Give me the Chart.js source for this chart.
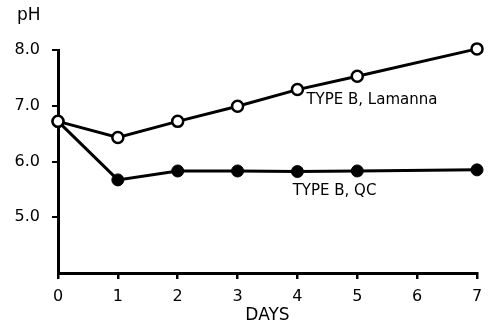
<!DOCTYPE html>
<html>
  <head>
    <meta charset="UTF-8">
    <title>pH</title>
    <script src="https://cdn.jsdelivr.net/npm/chart.js"></script>
    <style>
      html, body { margin: 0; padding: 0; background: #fff; }
      #wrap { width: 503px; height: 330px; }
    </style>
  </head>
  <body>
    <div id="wrap"><canvas id="phChart" width="503" height="330"></canvas></div>

    <script>
      // Days sampled and pH readings for both cultures
      const days = [0, 1, 2, 3, 4, 5, 7];
      const lamannaPH = [6.72, 6.43, 6.72, 6.99, 7.29, 7.53, 8.02];
      const qcPH = [6.72, 5.67, 5.83, 5.83, 5.82, 5.83, 5.85];
      const xTicks = [0, 1, 2, 3, 4, 5, 6, 7];
      const yTicks = [5.0, 6.0, 7.0, 8.0];

      const font = "'DejaVu Sans', sans-serif";

      // curve labels, placed in data units
      const curveLabels = [
        { text: 'TYPE B, Lamanna', day: 4.15, ph: 7.1 },
        { text: 'TYPE B, QC', day: 3.92, ph: 5.46 }
      ];

      const textPlugin = {
        id: 'textPlugin',
        afterDraw(chart) {
          const c = chart.ctx;
          const xs = chart.scales.x, ys = chart.scales.y;
          c.save();
          c.fillStyle = '#000';
          c.font = '15px ' + font;
          c.textBaseline = 'middle';
          c.textAlign = 'left';
          curveLabels.forEach(l => {
            c.fillText(l.text, xs.getPixelForValue(l.day), ys.getPixelForValue(l.ph));
          });
          c.font = '17px ' + font;
          c.fillText('pH', 17, 16);
          c.restore();
        }
      };

      const pts = arr => days.map((d, i) => ({ x: d, y: arr[i] }));

      new Chart(document.getElementById('phChart'), {
        type: 'line',
        data: {
          datasets: [{
            label: 'TYPE B, Lamanna',
            data: pts(lamannaPH),
            borderColor: '#000',
            borderWidth: 3,
            pointBackgroundColor: '#fff',
            pointBorderColor: '#000',
            pointBorderWidth: 2.5,
            pointRadius: 5.5,
            tension: 0
          }, {
            label: 'TYPE B, QC',
            data: pts(qcPH),
            borderColor: '#000',
            borderWidth: 3,
            pointBackgroundColor: '#000',
            pointBorderColor: '#000',
            pointBorderWidth: 1,
            pointRadius: 6,
            tension: 0
          }]
        },
        options: {
          responsive: false,
          animation: false,
          clip: false,
          layout: { padding: { top: 50, right: 26, left: 0, bottom: 0 } },
          plugins: {
            legend: { display: false },
            tooltip: { enabled: false }
          },
          scales: {
            x: {
              type: 'linear',
              min: 0,
              max: 7,
              afterBuildTicks: s => { s.ticks = xTicks.map(v => ({ value: v })); },
              afterFit: s => { s.height = 57; },
              border: { display: true, color: '#000', width: 3 },
              grid: { drawOnChartArea: false, drawTicks: true, tickLength: 6, tickColor: '#000', lineWidth: 2.5 },
              ticks: { color: '#000', font: { family: font, size: 16 }, padding: 8, maxRotation: 0 },
              title: { display: true, text: 'DAYS', color: '#000', font: { family: font, size: 17 }, padding: { top: 0 } }
            },
            y: {
              min: 4,
              max: 8,
              afterBuildTicks: s => { s.ticks = yTicks.map(v => ({ value: v })); },
              afterFit: s => { s.width = 58; },
              border: { display: true, color: '#000', width: 3 },
              grid: { drawOnChartArea: false, drawTicks: true, tickLength: 6, tickColor: '#000', lineWidth: 2 },
              ticks: {
                color: '#000',
                font: { family: font, size: 16 },
                padding: 12,
                callback: v => v.toFixed(1)
              }
            }
          }
        },
        plugins: [textPlugin]
      });
    </script>
  </body>
</html>
